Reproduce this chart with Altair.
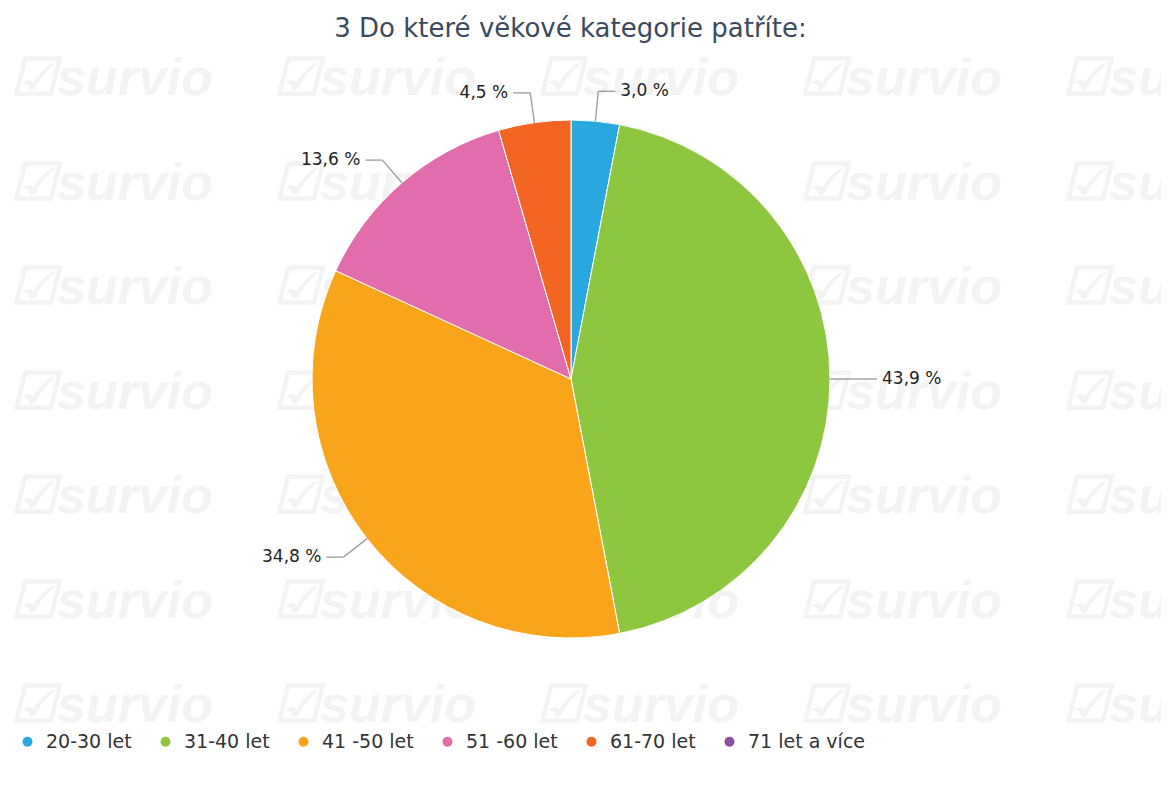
import altair as alt
import pandas as pd

# ---- data ----
categories = ["20-30 let", "31-40 let", "41 -50 let", "51 -60 let", "61-70 let", "71 let a více"]
percent = [3.0, 43.9, 34.8, 13.6, 4.5, 0.0]
colors = ["#29A8E0", "#8DC63F", "#F9A51B", "#E36CAD", "#F26522", "#8B4FA0"]
title_text = "3 Do které věkové kategorie patříte:"
watermark_text = "☑survio"

df = pd.DataFrame({"kategorie": categories, "procent": percent, "poradi": list(range(len(categories)))})

# ---- layout ----
W, H = 1153, 730
OX, OY = 8, 41          # page position of plot origin
CX, CY = 571 - OX, 378 - OY
R = 259
OUT = 30                # radial connector length
HOR = 17                # horizontal connector length
GAP = 5

base = alt.Chart(df).transform_filter("datum.procent > 0")

color = alt.Color(
    "kategorie:N",
    scale=alt.Scale(domain=categories, range=colors),
    sort=categories,
    legend=alt.Legend(
        orient="none", legendX=10, legendY=741 - OY - 10, direction="horizontal",
        title=None, symbolType="circle", symbolSize=100, symbolStrokeWidth=0,
        labelFontSize=19, labelFont="DejaVu Sans", labelColor="#333333",
        labelOffset=9, columnPadding=24,
    ),
)

pie = base.mark_arc(radius=R, stroke="white", strokeWidth=1).encode(
    theta=alt.Theta("procent:Q", stack=True),
    order=alt.Order("poradi:Q"),
    color=color,
    x=alt.value(CX),
    y=alt.value(CY),
)

geo = base.transform_window(
    cum="sum(procent)", sort=[alt.SortField("poradi")], frame=[None, 0]
).transform_joinaggregate(total="sum(procent)").transform_calculate(
    mid="2*PI*(datum.cum - datum.procent/2)/datum.total",
    side="sin(datum.mid) >= 0 ? 1 : -1",
    ex=f"{CX} + {R}*sin(datum.mid)",
    ey=f"{CY} - {R}*cos(datum.mid)",
    ox=f"{CX} + {R + OUT}*sin(datum.mid)",
    oy=f"{CY} - {R + OUT}*cos(datum.mid)",
    hx=f"datum.ox + datum.side*{HOR}",
    lx=f"datum.hx + datum.side*{GAP}",
    label="replace(format(datum.procent, '.1f'), '.', ',') + ' %'",
)

conn1 = geo.mark_rule(color="#a0a0a0", strokeWidth=1.4).encode(
    x=alt.X("ex:Q", scale=None, axis=None), y=alt.Y("ey:Q", scale=None, axis=None),
    x2="ox:Q", y2="oy:Q",
)
conn2 = geo.mark_rule(color="#a0a0a0", strokeWidth=1.4).encode(
    x=alt.X("ox:Q", scale=None, axis=None), y=alt.Y("oy:Q", scale=None, axis=None),
    x2="hx:Q", y2="oy:Q",
)
text_style = dict(font="DejaVu Sans", fontSize=17, color="#222222", baseline="middle")
lab_r = geo.transform_filter("datum.side > 0").mark_text(align="left", **text_style).encode(
    x=alt.X("lx:Q", scale=None, axis=None), y=alt.Y("oy:Q", scale=None, axis=None), text="label:N"
)
lab_l = geo.transform_filter("datum.side < 0").mark_text(align="right", **text_style).encode(
    x=alt.X("lx:Q", scale=None, axis=None), y=alt.Y("oy:Q", scale=None, axis=None), text="label:N"
)

wm = alt.Chart(alt.sequence(0, 40, as_="i")).transform_calculate(
    col="datum.i % 5",
    row="floor(datum.i / 5)",
    wx=f"{10 - OX} + datum.col*263",
    wy=f"{94 - OY} + datum.row*104.5",
    t=f"'{watermark_text}'",
).mark_text(
    align="left", baseline="alphabetic", font="Liberation Sans", fontStyle="italic",
    fontWeight="bold", fontSize=52, color="#f3f3f3", clip=True,
).encode(
    x=alt.X("wx:Q", scale=None, axis=None), y=alt.Y("wy:Q", scale=None, axis=None), text="t:N"
)

chart = alt.layer(wm, pie, conn1, conn2, lab_r, lab_l).properties(
    width=W, height=H,
    title=alt.TitleParams(title_text, fontSize=26, font="DejaVu Sans", fontWeight="normal",
                          color="#3b4a5c", anchor="middle", offset=0, dx=-14),
    padding={"top": 8, "left": 0, "right": 0, "bottom": 0},
    background="white",
).configure_view(strokeWidth=0)

chart.save("out.html", embed_options={"renderer": "svg", "actions": False})
